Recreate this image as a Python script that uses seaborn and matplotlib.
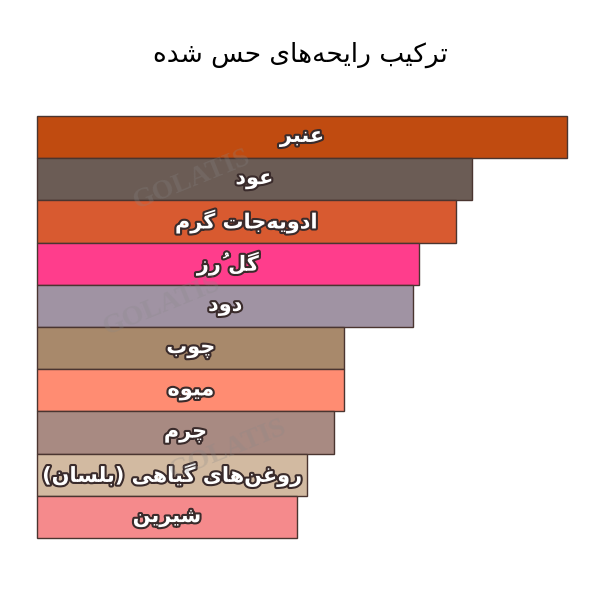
import matplotlib
matplotlib.use("Agg")
import matplotlib.pyplot as plt
import matplotlib.patheffects as pe
import seaborn as sns
import pandas as pd

# chart data
notes = ["عنبر", "عود", "ادویه‌جات گرم", "گل رُز", "دود",
         "چوب", "میوه", "چرم", "روغن‌های گیاهی (بلسان)", "شیرین"]
values = [100, 82, 79, 72, 71, 58, 58, 56, 51, 49]
colors = ["#C04B10", "#6B5C55", "#D85A30", "#FF3D8C", "#A093A3",
          "#A8896B", "#FF8C72", "#A88A82", "#D2BAA1", "#F58A8C"]
title = "ترکیب رایحه‌های حس شده"

# --- minimal arabic/persian shaping (matplotlib has no bidi / joining) ---
# forms: isolated, final, initial, medial
FORMS = {
    "ا": "\uFE8D\uFE8E", "ب": "\uFE8F\uFE90\uFE91\uFE92", "ت": "\uFE95\uFE96\uFE97\uFE98",
    "ج": "\uFE9D\uFE9E\uFE9F\uFEA0", "ح": "\uFEA1\uFEA2\uFEA3\uFEA4", "د": "\uFEA9\uFEAA",
    "ر": "\uFEAD\uFEAE", "ز": "\uFEAF\uFEB0", "س": "\uFEB1\uFEB2\uFEB3\uFEB4",
    "ش": "\uFEB5\uFEB6\uFEB7\uFEB8", "ع": "\uFEC9\uFECA\uFECB\uFECC", "غ": "\uFECD\uFECE\uFECF\uFED0",
    "ل": "\uFEDD\uFEDE\uFEDF\uFEE0", "م": "\uFEE1\uFEE2\uFEE3\uFEE4", "ن": "\uFEE5\uFEE6\uFEE7\uFEE8",
    "ه": "\uFEE9\uFEEA\uFEEB\uFEEC", "و": "\uFEED\uFEEE", "ی": "\uFBFC\uFBFD\uFBFE\uFBFF",
    "ک": "\uFB8E\uFB8F\uFB90\uFB91", "گ": "\uFB92\uFB93\uFB94\uFB95", "چ": "\uFB7A\uFB7B\uFB7C\uFB7D",
}
MARKS = {"\u064F"}
MIRROR = {"(": ")", ")": "("}


def shape(text):
    chars = list(text)
    n = len(chars)

    def neighbour(i, step):
        j = i + step
        while 0 <= j < n and chars[j] in MARKS:
            j += step
        return chars[j] if 0 <= j < n else None

    out = []
    for i, c in enumerate(chars):
        if c not in FORMS:
            out.append(c)
            continue
        prev, nxt = neighbour(i, -1), neighbour(i, 1)
        to_prev = prev in FORMS and len(FORMS[prev]) == 4
        to_next = len(FORMS[c]) == 4 and nxt in FORMS
        f = FORMS[c]
        if to_prev and to_next:
            out.append(f[3])
        elif to_prev:
            out.append(f[1])
        elif to_next:
            out.append(f[2])
        else:
            out.append(f[0])
    # group base + marks, drop zwnj, reverse to visual order
    clusters = []
    for c in out:
        if c == "\u200c":
            continue
        if c in MARKS and clusters:
            clusters[-1] += c
        else:
            clusters.append(MIRROR.get(c, c))
    return "".join(reversed(clusters))


df = pd.DataFrame({"note": notes, "value": values})

sns.set_theme(style="white")
plt.rcParams["font.family"] = ["DejaVu Sans"]

fig = plt.figure(figsize=(6, 6), dpi=100)
ax = fig.add_axes([0.062, 0.103, 0.883, 0.704])
sns.barplot(data=df, x="value", y="note", hue="note", palette=colors, legend=False,
            orient="h", width=1.0, saturation=1, edgecolor="#4a3530", linewidth=1, ax=ax)

ax.set_xlim(0, max(values))
ax.set_xlabel("")
ax.set_ylabel("")
ax.set_xticks([])
ax.set_yticks([])
sns.despine(ax=ax, left=True, bottom=True)
for bar in ax.patches:
    bar.set_clip_on(False)

for i, (lab, v) in enumerate(zip(notes, values)):
    ax.text(v / 2, i, shape(lab), ha="center", va="center", fontsize=15,
            fontweight="bold", color="white",
            path_effects=[pe.withStroke(linewidth=3, foreground="#3a2b2b")])

# faint watermark
for x, y in [(0.32, 0.70), (0.27, 0.49), (0.38, 0.25)]:
    fig.text(x, y, "GOLATIS", fontsize=20, family="Liberation Serif", fontweight="bold",
             color="#888888", alpha=0.25, rotation=22, ha="center", va="center")

fig.text(0.5, 0.908, shape(title), ha="center", va="center", fontsize=19, color="black")

fig.savefig("out.png", dpi=100)
